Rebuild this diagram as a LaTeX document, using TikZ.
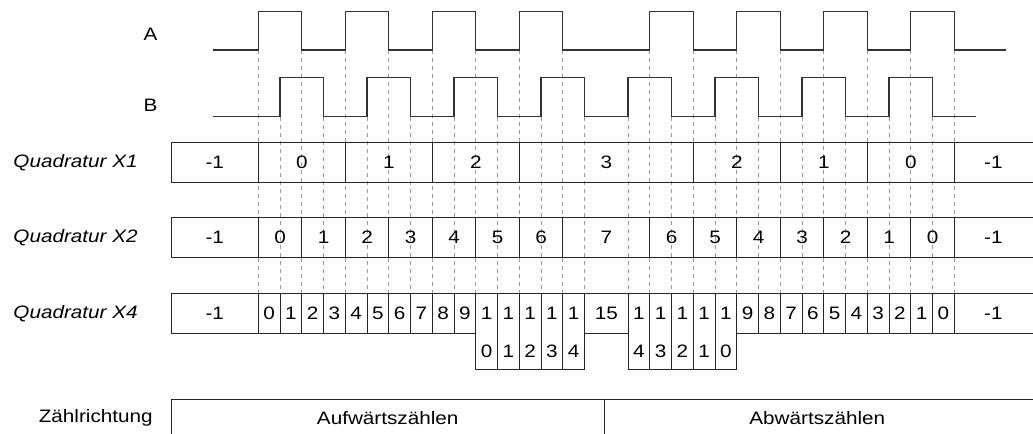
\documentclass[tikz,border=0pt]{standalone}
\usepackage{fontspec}
\setmainfont{Liberation Sans}
\tikzstyle{sig}=[draw=black!80, line width=1pt]
\tikzstyle{guide}=[draw=black!40, line width=0.6pt, dash pattern=on 3pt off 3pt]
\tikzstyle{cell}=[draw=black!85, line width=0.8pt]
\tikzstyle{num}=[font=\fontsize{13.5}{15}\selectfont, xscale=1.15, inner sep=0pt]
\tikzstyle{rowlbl}=[num, anchor=east, font=\fontsize{13.5}{15}\selectfont\itshape]

\begin{document}
\begin{tikzpicture}[x=16.3125pt, y=-0.75pt]

\useasboundingbox (-11.876,0) rectangle (35.619,434);

\foreach \t in {0,2,4,6,8,10,12,14,18,20,22,24,26,28,30,32}
  \draw[guide] (\t,50) -- (\t,293.3);
\foreach \t in {1,3,5,7,9,11,13,15,17,19,21,23,25,27,29,31}
  \draw[guide] (\t,116.7) -- (\t,293.3);

\node[num] (lblA) at (-4.95,34.7) {A};
\node[num] (lblB) at (-4.95,105.7) {B};
\draw[sig] (-2.08,50) foreach \s in {0,4,8,12,18,22,26,30} { -- (\s,50) -- (\s,11.7) -- (\s+2,11.7) -- (\s+2,50) } -- (34.4,50);
\draw[sig] (-2.08,116.7) foreach \s in {1,5,9,13,17,21,25,29} { -- (\s,116.7) -- (\s,77.7) -- (\s+2,77.7) -- (\s+2,116.7) } -- (33,116.7);

% Quadratur X1
\node[rowlbl] (lblX1) at (-5.53,162.5) {Quadratur X1};
\draw[cell] (35.619,142.7) -- (-4,142.7) -- (-4,182.3) -- (35.619,182.3);
\foreach \t in {0,4,8,12,20,24,28,32}
  \draw[cell] (\t,142.7) -- (\t,182.3);
\foreach \t/\v in {-2/-1,2/0,6/1,10/2,16/3,22/2,26/1,30/0,33.8/-1}
  \node[num] (x1-\t) at (\t,162.5) {\v};

% Quadratur X2
\node[rowlbl] (lblX2) at (-5.53,237.3) {Quadratur X2};
\draw[cell] (35.619,217.3) -- (-4,217.3) -- (-4,257.3) -- (35.619,257.3);
\foreach \t in {0,2,4,6,8,10,12,14,18,20,22,24,26,28,30,32}
  \draw[cell] (\t,217.3) -- (\t,257.3);
\foreach \t/\v in {-2/-1,1/0,3/1,5/2,7/3,9/4,11/5,13/6,16/7,19/6,21/5,23/4,25/3,27/2,29/1,31/0,33.8/-1}
  \node[num] (x2-\t) at (\t,237.3) {\v};

% Quadratur X4
\node[rowlbl] (lblX4) at (-5.53,313.3) {Quadratur X4};
\draw[cell] (35.619,293.3) -- (-4,293.3) -- (-4,333.3) -- (10,333.3);
\draw[cell] (15,333.3) -- (17,333.3);
\draw[cell] (22,333.3) -- (35.619,333.3);
\foreach \t in {0,1,2,3,4,5,6,7,8,9,23,24,25,26,27,28,29,30,31,32}
  \draw[cell] (\t,293.3) -- (\t,333.3);
\foreach \t in {10,11,12,13,14,17,18,19,20,21}
  \draw[cell] (\t,293.3) rectangle (\t+1,369.3);
\node[num] (x4-m1) at (-2,313.3) {-1};
\foreach \v in {0,...,9}
  \node[num] (x4u-\v) at (\v+0.5,313.3) {\v};
\foreach \t/\d in {10/0,11/1,12/2,13/3,14/4,17/4,18/3,19/2,20/1,21/0} {
  \node[num] (x4t-\t) at (\t+0.5,313.3) {1};
  \node[num] (x4b-\t) at (\t+0.5,351.7) {\d};
}
\node[num] (x4-15) at (16,313.3) {15};
\foreach \v in {9,...,0}
  \node[num] (x4d-\v) at (31.5-\v,313.3) {\v};
\node[num] (x4-m1r) at (33.8,313.3) {-1};

% Zaehlrichtung
\node[num, anchor=east] (lblDir) at (-4.84,418) {Zählrichtung};
\draw[cell] (35.619,399.3) -- (-4,399.3) -- (-4,434);
\draw[cell] (15.9,399.3) -- (15.9,434);
\node[num] (up) at (5.95,418) {Aufwärtszählen};
\node[num] (down) at (25.7,418) {Abwärtszählen};

\end{tikzpicture}
\end{document}
